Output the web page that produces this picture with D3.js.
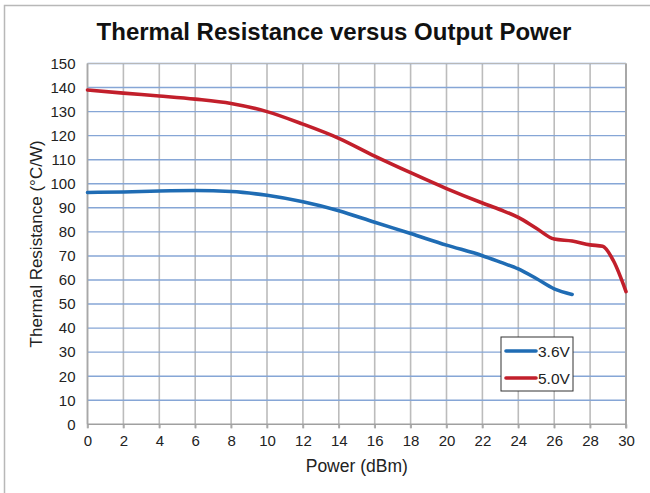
<!DOCTYPE html>
<html>
<head>
<meta charset="utf-8">
<script src="https://cdn.jsdelivr.net/npm/d3@7"></script>
<style>
  body { margin: 0; background: #fff; }
  text { font-family: "Liberation Sans", Arial, sans-serif; fill: #222; }
</style>
</head>
<body>
<div id="chart"></div>
<script>
// chart values
var power36 = [0, 2, 4, 6, 8, 10, 12, 14, 16, 18, 20, 22, 23, 24, 25, 26, 27];
var res36 = [96.4, 96.6, 97.0, 97.2, 96.8, 95.2, 92.5, 88.8, 84.0, 79.3, 74.5, 70.1, 67.4, 64.6, 60.6, 56.3, 54.0];

var power50 = [0, 2, 4, 6, 8, 10, 12, 14, 16, 18, 20, 22, 23, 24, 25, 26, 27, 28, 28.7, 29.3, 30];
var res50 = [139.0, 137.7, 136.5, 135.2, 133.4, 130.0, 124.8, 118.9, 111.5, 104.6, 98.0, 92.0, 89.2, 86.0, 81.5, 77.0, 76.2, 74.6, 74.0, 68.0, 55.2];

var xTicks = d3.range(0, 31, 2);
var yTicks = d3.range(0, 151, 10);

var svgWidth = 650, svgHeight = 493;
var margin = { top: 63.5, right: 24, bottom: 68.7, left: 87.5 };
var chartWidth = svgWidth - margin.left - margin.right;
var chartHeight = svgHeight - margin.top - margin.bottom;

var svg = d3.select("#chart").append("svg")
  .attr("width", svgWidth)
  .attr("height", svgHeight);

// outer frame
svg.append("rect")
  .attr("x", 4.5).attr("y", 5.5)
  .attr("width", 660).attr("height", 500)
  .attr("fill", "none")
  .attr("stroke", "#b8b8b8")
  .attr("stroke-width", 1.5);

svg.append("text")
  .attr("x", 334).attr("y", 40)
  .attr("text-anchor", "middle")
  .style("font-size", "24px")
  .style("font-weight", "bold")
  .style("fill", "#111")
  .text("Thermal Resistance versus Output Power");

var chartGroup = svg.append("g")
  .attr("transform", `translate(${margin.left}, ${margin.top})`);

var xScale = d3.scaleLinear().domain([0, 30]).range([0, chartWidth]);
var yScale = d3.scaleLinear().domain([0, 150]).range([chartHeight, 0]);

// vertical grid (gray)
chartGroup.append("g")
  .selectAll("line")
  .data(xTicks)
  .enter()
  .append("line")
    .attr("x1", d => xScale(d)).attr("x2", d => xScale(d))
    .attr("y1", 0).attr("y2", chartHeight + 4)
    .attr("stroke", "#bcbcbc")
    .attr("stroke-width", 1.6);

// horizontal grid (blue)
chartGroup.append("g")
  .selectAll("line")
  .data(yTicks.filter(d => d > 0))
  .enter()
  .append("line")
    .attr("x1", 0).attr("x2", chartWidth)
    .attr("y1", d => yScale(d)).attr("y2", d => yScale(d))
    .attr("stroke", "#86a6d6")
    .attr("stroke-width", 1.4);

// frame of plot area
chartGroup.append("line")
  .attr("x1", 0).attr("x2", 0).attr("y1", 0).attr("y2", chartHeight)
  .attr("stroke", "#a8a8a8").attr("stroke-width", 1.6);
chartGroup.append("line")
  .attr("x1", chartWidth).attr("x2", chartWidth).attr("y1", 0).attr("y2", chartHeight + 4)
  .attr("stroke", "#a8a8a8").attr("stroke-width", 2);
chartGroup.append("line")
  .attr("x1", 0).attr("x2", chartWidth).attr("y1", 0).attr("y2", 0)
  .attr("stroke", "#b8b8b8").attr("stroke-width", 1);

// axes
var xAxis = d3.axisBottom(xScale).tickValues(xTicks).tickSize(4).tickPadding(7);
var yAxis = d3.axisLeft(yScale).tickValues(yTicks).tickSize(0).tickPadding(12);

var gx = chartGroup.append("g")
  .attr("transform", `translate(0, ${chartHeight})`)
  .call(xAxis);
var gy = chartGroup.append("g").call(yAxis);

[gx, gy].forEach(function (g) {
  g.select(".domain").remove();
  g.selectAll("text").style("font-size", "15px").style("fill", "#222")
    .style("font-family", "'Liberation Sans', Arial, sans-serif");
  g.selectAll(".tick line").attr("stroke", "#a8a8a8").attr("stroke-width", 1.6);
});

chartGroup.append("line")
  .attr("x1", 0).attr("x2", chartWidth).attr("y1", chartHeight).attr("y2", chartHeight)
  .attr("stroke", "#a0a0a0").attr("stroke-width", 1.6);

// curves
var line = d3.line()
  .x(d => xScale(d[0]))
  .y(d => yScale(d[1]))
  .curve(d3.curveMonotoneX);

chartGroup.append("path")
  .datum(power36.map((p, i) => [p, res36[i]]))
  .attr("d", line)
  .attr("fill", "none")
  .attr("stroke", "#1f6cb4")
  .attr("stroke-width", 3.6)
  .attr("stroke-linecap", "round");

chartGroup.append("path")
  .datum(power50.map((p, i) => [p, res50[i]]))
  .attr("d", line)
  .attr("fill", "none")
  .attr("stroke", "#c21f2b")
  .attr("stroke-width", 3.6)
  .attr("stroke-linecap", "round");

// axis labels
svg.append("text")
  .attr("transform", `translate(${margin.left + chartWidth / 2}, 472)`)
  .attr("text-anchor", "middle")
  .style("font-size", "17.5px")
  .text("Power (dBm)");

svg.append("text")
  .attr("transform", `translate(42, ${margin.top + chartHeight / 2}) rotate(-90)`)
  .attr("text-anchor", "middle")
  .style("font-size", "17px")
  .text("Thermal Resistance (°C/W)");

// legend
var legend = svg.append("g").attr("transform", "translate(501, 337)");
legend.append("rect")
  .attr("width", 72).attr("height", 54)
  .attr("fill", "#fff")
  .attr("stroke", "#333")
  .attr("stroke-width", 1);

var legendItems = [
  { label: "3.6V", color: "#1f6cb4" },
  { label: "5.0V", color: "#c21f2b" }
];
legendItems.forEach(function (item, i) {
  var y = 14 + i * 27;
  legend.append("line")
    .attr("x1", 5).attr("x2", 35).attr("y1", y).attr("y2", y)
    .attr("stroke", item.color).attr("stroke-width", 3.6)
    .attr("stroke-linecap", "round");
  legend.append("text")
    .attr("x", 37).attr("y", y + 5.5)
    .style("font-size", "15.5px")
    .text(item.label);
});
</script>
</body>
</html>
